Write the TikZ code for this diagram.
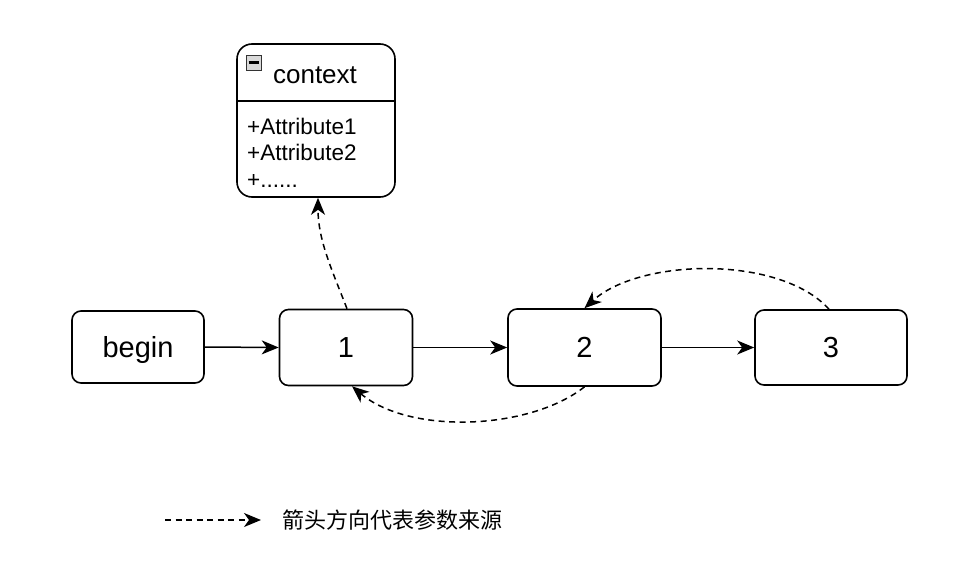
\documentclass[tikz,border=0pt]{standalone}
\usepackage{fontspec}
\setmainfont{Liberation Sans}
\newfontfamily\cjk{Noto Sans CJK SC}
\usetikzlibrary{arrows.meta,calc}
\begin{document}
\begin{tikzpicture}[x=1pt,y=-1pt,
  box/.style={draw,line width=1.6pt,rounded corners=9pt,inner sep=0pt,text height=20pt,text depth=0pt,font=\fontsize{29}{34}\selectfont},
  conn/.style={line width=1.5pt,-{Stealth[length=17pt,width=14pt,inset=5pt]}},
  dep/.style={conn,dash pattern=on 6pt off 4.5pt},
  attr/.style={anchor=base west,inner sep=0pt,font=\fontsize{22.5}{26}\selectfont}]
\useasboundingbox (0,0) rectangle (960,570);
% boxes
\node[box,minimum width=132pt,minimum height=72pt] (b) at (138,347) {begin};
\node[box,minimum width=133pt,minimum height=76pt] (n1) at (346,347.5) {1};
\node[box,minimum width=153pt,minimum height=77pt] (n2) at (584.5,347.5) {2};
\node[box,minimum width=152pt,minimum height=75pt] (n3) at (831,347.5) {3};
% context class box
\node[draw,line width=1.6pt,rounded corners=15pt,minimum width=158pt,minimum height=153pt,inner sep=0pt] (ctx) at (316,120.5) {};
\coordinate (hl) at (0,101);
\draw[line width=1.6pt] (ctx.west |- hl) -- (ctx.east |- hl);
\node[draw=gray!40!black,fill=gray!30,minimum size=15pt,inner sep=0pt,line width=0.9pt] (mi) at (253.5,62.5) {};
\draw[line width=2.2pt] ([xshift=-5pt]mi.center) -- ([xshift=5pt]mi.center);
\node[anchor=base,inner sep=0pt,font=\fontsize{26}{30}\selectfont] (ctxt) at (315,83) {context};
\node[attr] (a1) at (247,134) {+Attribute1};
\node[attr] (a2) at (247,160) {+Attribute2};
\node[attr] (a3) at (247,187) {+......};
% solid connectors
\draw[conn] (b.east) -- (n1.west);
\draw[conn] (n1.east) -- (n2.west);
\draw[conn] (n2.east) -- (n3.west);
% dashed connectors
\draw[dep] ([xshift=1pt]n1.north) .. controls (332,270) and (318,240) .. ([xshift=2pt]ctx.south);
\draw[dep] ([xshift=-2pt]n3.north) .. controls (780,255) and (640,258) .. (n2.north);
\draw[dep] (n2.south) .. controls (530,430) and (410,435) .. ([xshift=6pt]n1.south);
% legend
\coordinate (l1) at (165,520);
\coordinate (l2) at (261,520);
\draw[dep] (l1) -- (l2);
\node[anchor=west,inner sep=0pt,font=\cjk\fontsize{22}{26}\selectfont] (lt) at (282,520) {箭头方向代表参数来源};
\end{tikzpicture}
\end{document}
